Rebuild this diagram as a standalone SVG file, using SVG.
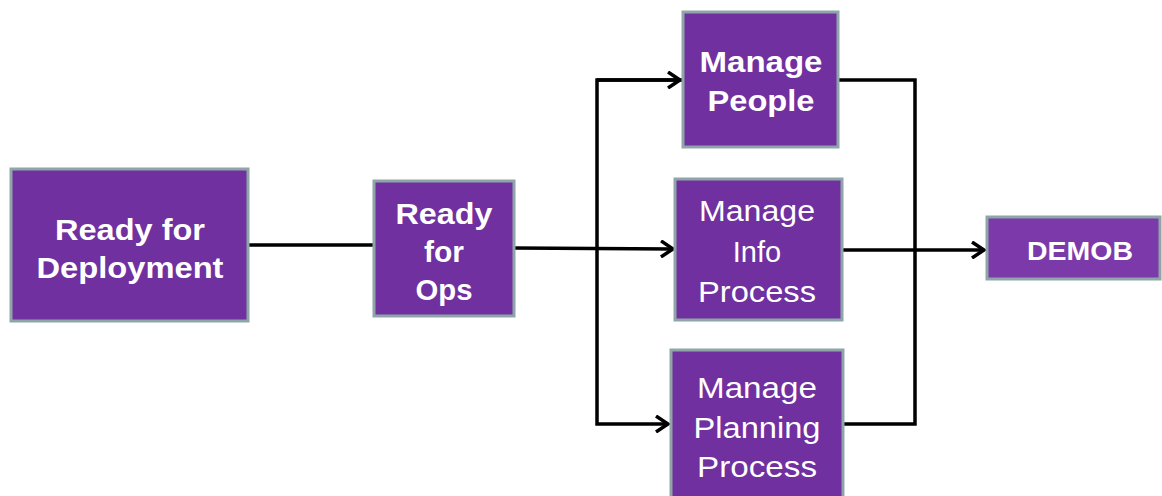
<svg xmlns="http://www.w3.org/2000/svg" width="1162" height="496" viewBox="0 0 1162 496">
<style>
.box{fill:#7030a0;stroke:#8fa6a9;stroke-width:3}
.demob{fill:#7b39aa;stroke:#8fa6a9;stroke-width:3}
.t{font-family:"Liberation Sans",Arial,sans-serif;fill:#ffffff;text-anchor:middle;font-size:29px}
.b{font-weight:bold}
.c{fill:none;stroke:#000;stroke-width:3.5}
</style>
<defs>
<marker id="arr" markerUnits="userSpaceOnUse" viewBox="0 0 16 18" markerWidth="16" markerHeight="18" refX="14" refY="9" orient="auto">
<path d="M2,1 L14,9 L2,17" fill="none" stroke="#000" stroke-width="3.5" stroke-linejoin="miter"/>
</marker>
</defs>
<rect width="1162" height="496" fill="#ffffff"/>
<g id="connectors">
<path class="c" d="M248,245 L374,245"/>
<path class="c" d="M514,248 L673,249" marker-end="url(#arr)"/>
<path class="c" d="M682,80 L597,80 L597,424 L668,424" marker-end="url(#arr)"/>
<path class="c" d="M597,80 L680,80" marker-end="url(#arr)"/>
<path class="c" d="M838,80 L915,80 L915,424 L843,424"/>
<path class="c" d="M842,250 L984,250" marker-end="url(#arr)"/>
</g>
<g id="ready-deployment">
<rect class="box" x="11" y="169" width="237" height="152"/>
<text class="t b" x="130" y="240" textLength="150" lengthAdjust="spacingAndGlyphs">Ready for</text>
<text class="t b" x="130" y="278" textLength="187" lengthAdjust="spacingAndGlyphs">Deployment</text>
</g>
<g id="ready-ops">
<rect class="box" x="374" y="181" width="140" height="135"/>
<text class="t b" x="444" y="224" textLength="97" lengthAdjust="spacingAndGlyphs">Ready</text>
<text class="t b" x="444" y="262" textLength="40" lengthAdjust="spacingAndGlyphs">for</text>
<text class="t b" x="444" y="300" textLength="57" lengthAdjust="spacingAndGlyphs">Ops</text>
</g>
<g id="manage-people">
<rect class="box" x="683" y="12" width="155" height="135"/>
<text class="t b" x="761" y="72" textLength="123" lengthAdjust="spacingAndGlyphs">Manage</text>
<text class="t b" x="761" y="111" textLength="107" lengthAdjust="spacingAndGlyphs">People</text>
</g>
<g id="manage-info">
<rect class="box" x="675" y="179" width="167" height="141"/>
<text class="t" x="757" y="221" textLength="116" lengthAdjust="spacingAndGlyphs">Manage</text>
<text class="t" x="757" y="262">Info</text>
<text class="t" x="757" y="302" textLength="118" lengthAdjust="spacingAndGlyphs">Process</text>
</g>
<g id="manage-planning">
<rect class="box" x="671" y="350" width="172" height="150"/>
<text class="t" x="757" y="398" textLength="120" lengthAdjust="spacingAndGlyphs">Manage</text>
<text class="t" x="757" y="438" textLength="127" lengthAdjust="spacingAndGlyphs">Planning</text>
<text class="t" x="757" y="477" textLength="120" lengthAdjust="spacingAndGlyphs">Process</text>
</g>
<g id="demob">
<rect class="demob" x="987" y="217" width="173" height="62"/>
<text class="t b" x="1080" y="260" style="font-size:25px" textLength="106" lengthAdjust="spacingAndGlyphs">DEMOB</text>
</g>
</svg>
